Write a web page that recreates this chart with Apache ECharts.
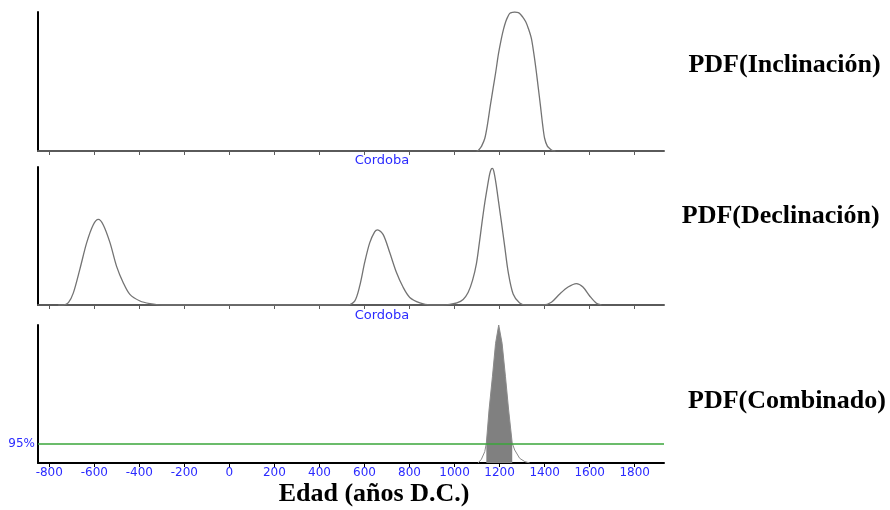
<!DOCTYPE html>
<html>
<head>
<meta charset="utf-8">
<script src="https://cdn.jsdelivr.net/npm/echarts@6/dist/echarts.min.js"></script>
<style>html,body{margin:0;padding:0;background:#fff;}#c{width:890px;height:510px;}</style>
</head>
<body>
<div id="c"></div>
<script>
// ---- data ----
const xTickValues = [-800, -600, -400, -200, 0, 200, 400, 600, 800, 1000, 1200, 1400, 1600, 1800];
const xMin = -850, xMax = 1930;

const incYears = [1098, 1105, 1112, 1120, 1134, 1146, 1159, 1171, 1183, 1195, 1208, 1218, 1227, 1236, 1245, 1256, 1267,
                  1278, 1289, 1302, 1316, 1328, 1341, 1352, 1363, 1372, 1381, 1391, 1400, 1412, 1423, 1435, 1448];
const incVals  = [0, 0.003, 0.017, 0.035, 0.09, 0.19, 0.33, 0.45, 0.57, 0.70, 0.81, 0.88, 0.93, 0.965, 0.99, 0.998, 1.0,
                  0.997, 0.99, 0.965, 0.93, 0.88, 0.81, 0.70, 0.57, 0.45, 0.33, 0.19, 0.09, 0.035, 0.017, 0.003, 0];

const decYears = [-760, -738, -715, -693, -664, -634, -605, -582, -560, -530, -501, -471, -442, -397, -353, -301,
                  527, 557, 579, 601, 623, 645, 658, 683, 712, 742, 771, 801, 846, 890,
                  950, 979, 1010, 1038, 1060, 1080, 1097, 1110, 1122, 1134, 1146, 1156, 1163, 1168, 1174, 1184, 1196, 1208, 1223, 1238, 1260, 1289, 1319,
                  1393, 1430, 1467, 1504, 1541, 1570, 1600, 1630, 1652];
const decVals  = [0, 0, 0.017, 0.088, 0.26, 0.45, 0.58, 0.62, 0.58, 0.45, 0.28, 0.16, 0.077, 0.029, 0.01, 0,
                  0, 0.03, 0.14, 0.31, 0.45, 0.53, 0.545, 0.51, 0.38, 0.235, 0.13, 0.055, 0.015, 0,
                  0, 0.005, 0.015, 0.04, 0.09, 0.18, 0.30, 0.45, 0.60, 0.74, 0.86, 0.95, 0.985, 0.99, 0.97, 0.88, 0.74, 0.60, 0.42, 0.24, 0.08, 0.015, 0,
                  0, 0.02, 0.08, 0.13, 0.155, 0.13, 0.065, 0.012, 0];

const comYears = [1104, 1119, 1134, 1141, 1153, 1168, 1182, 1196, 1211, 1226, 1240, 1256, 1267, 1289, 1312, 1334];
const comVals  = [0, 0.027, 0.082, 0.143, 0.384, 0.625, 0.867, 1.0, 0.867, 0.625, 0.384, 0.143, 0.094, 0.034, 0.01, 0];
const ci95 = [1141, 1256];
const level95 = 0.136;

const siteLabel = 'Cordoba';
const panelTitles = ['PDF(Inclinación)', 'PDF(Declinación)', 'PDF(Combinado)'];
const xTitle = 'Edad (años D.C.)';

// ---- chart ----
const blue = '#2b2bff';
const curveColor = '#737373';
const pairs = (xs, ys) => xs.map((x, i) => [x, ys[i]]);
const comPairs = pairs(comYears, comVals);
const comFill = comPairs.filter(p => p[0] >= ci95[0] && p[0] <= ci95[1]);

const grids = [
  {left: 38, width: 626, top: 12, height: 139},
  {left: 38, width: 626, top: 167, height: 138},
  {left: 38, width: 626, top: 325, height: 138}
];

function xAxisFor(i) {
  const last = i === 2;
  return {
    type: 'value', gridIndex: i, min: xMin, max: xMax,
    axisLine: {show: true, onZero: false, lineStyle: {color: last ? '#000' : '#5a5a5a', width: 2}},
    axisTick: {show: true, customValues: xTickValues, length: 4, lineStyle: {color: last ? '#000' : '#5a5a5a', width: 1}},
    axisLabel: {show: last, customValues: xTickValues, color: blue, fontSize: 12, fontFamily: 'DejaVu Sans', margin: 4,
                formatter: v => String(v)},
    splitLine: {show: false}
  };
}
function yAxisFor(i) {
  return {
    type: 'value', gridIndex: i, min: 0, max: 1,
    axisLine: {show: true, onZero: false, lineStyle: {color: '#000', width: 2}},
    axisTick: {show: false}, axisLabel: {show: false}, splitLine: {show: false}
  };
}

const lineBase = {type: 'line', showSymbol: false, symbol: 'none', smooth: 0.3, silent: true,
  lineStyle: {color: curveColor, width: 1.3}, z: 3};

const option = {
  animation: false,
  backgroundColor: '#fff',
  grid: grids,
  xAxis: [xAxisFor(0), xAxisFor(1), xAxisFor(2)],
  yAxis: [yAxisFor(0), yAxisFor(1), yAxisFor(2)],
  series: [
    Object.assign({}, lineBase, {xAxisIndex: 0, yAxisIndex: 0, data: pairs(incYears, incVals)}),
    Object.assign({}, lineBase, {xAxisIndex: 1, yAxisIndex: 1, data: pairs(decYears, decVals)}),
    Object.assign({}, lineBase, {xAxisIndex: 2, yAxisIndex: 2, smooth: false, lineStyle: {color: '#8a8a8a', width: 1}, data: comPairs}),
    {type: 'line', xAxisIndex: 2, yAxisIndex: 2, showSymbol: false, symbol: 'none', smooth: false, silent: true,
     lineStyle: {width: 0}, areaStyle: {color: '#808080', opacity: 1}, data: comFill, z: 2,
     markLine: {symbol: 'none', silent: true, animation: false,
       data: [{yAxis: level95}],
       lineStyle: {color: '#3aa63a', width: 1.5, type: 'solid'},
       label: {show: true, position: 'start', formatter: '95%', color: blue, fontSize: 12, fontFamily: 'DejaVu Sans', distance: 3}}}
  ],
  graphic: [
    {type: 'text', x: 382, y: 161, style: {text: siteLabel, fill: blue, font: '13px "DejaVu Sans"', align: 'center', verticalAlign: 'middle'}},
    {type: 'text', x: 382, y: 315.5, style: {text: siteLabel, fill: blue, font: '13px "DejaVu Sans"', align: 'center', verticalAlign: 'middle'}},
    {type: 'text', x: 784.5, y: 65, style: {text: panelTitles[0], fill: '#000', font: 'bold 26px "Liberation Serif"', align: 'center', verticalAlign: 'middle'}},
    {type: 'text', x: 780.7, y: 216, style: {text: panelTitles[1], fill: '#000', font: 'bold 26px "Liberation Serif"', align: 'center', verticalAlign: 'middle'}},
    {type: 'text', x: 787, y: 401, style: {text: panelTitles[2], fill: '#000', font: 'bold 26px "Liberation Serif"', align: 'center', verticalAlign: 'middle'}},
    {type: 'text', x: 374, y: 494, style: {text: xTitle, fill: '#000', font: 'bold 26px "Liberation Serif"', align: 'center', verticalAlign: 'middle'}}
  ]
};

const chart = echarts.init(document.getElementById('c'), null, {renderer: 'canvas'});
chart.setOption(option);
</script>
</body>
</html>
